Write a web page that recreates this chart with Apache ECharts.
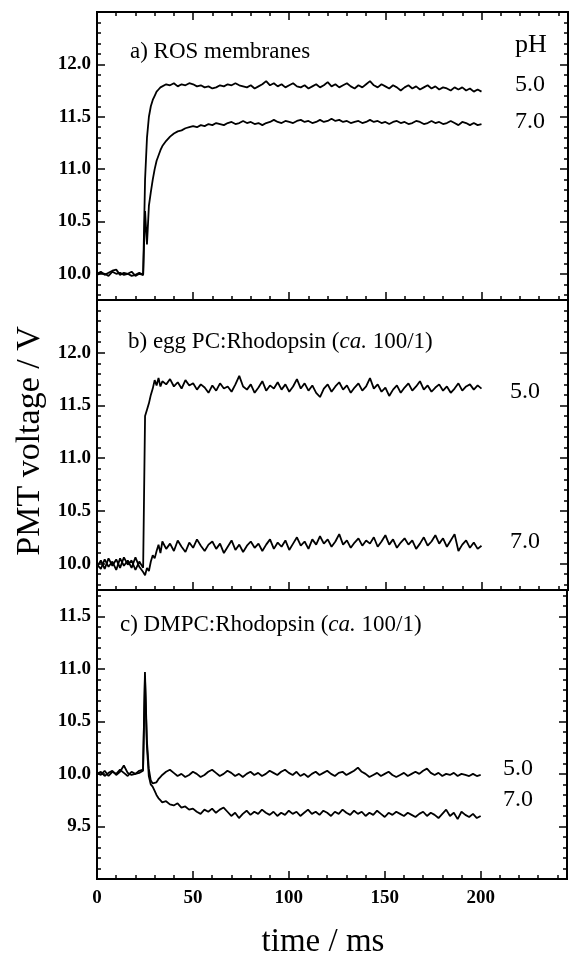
<!DOCTYPE html>
<html>
<head>
<meta charset="utf-8">
<script src="https://cdn.jsdelivr.net/npm/echarts@6/dist/echarts.min.js"></script>
<style>
html,body{margin:0;padding:0;background:#fff;}
#chart{width:570px;height:961px;}
</style>
</head>
<body>
<div id="chart"></div>
<script>
// ---- data ----
const time = [0,2,4,6,8,10,12,14,16,18,20,22,24,
  25,26,27,28,29,30,31,32,33,34,
  36,38,40,42,44,46,48,50,52,54,
  56,58,60,62,64,66,68,70,72,74,
  76,78,80,82,84,86,88,90,92,94,
  96,98,100,102,104,106,108,110,112,114,
  116,118,120,122,124,126,128,130,132,134,
  136,138,140,142,144,146,148,150,152,154,
  156,158,160,162,164,166,168,170,172,174,
  176,178,180,182,184,186,188,190,192,194,
  196,198,200];

// a) ROS membranes
const rosPH5 = [10.00,10.02,9.99,10.01,10.03,10.04,9.99,10.01,10.00,9.98,9.99,10.01,9.99,
  10.90,11.30,11.50,11.60,11.66,11.70,11.74,11.76,11.78,11.79,
  11.81,11.80,11.82,11.79,11.81,11.80,11.82,11.81,11.79,11.80,
  11.78,11.79,11.77,11.78,11.80,11.79,11.81,11.80,11.82,11.80,
  11.79,11.78,11.80,11.77,11.79,11.81,11.84,11.80,11.82,11.79,
  11.81,11.78,11.80,11.82,11.79,11.78,11.80,11.77,11.79,11.81,
  11.78,11.80,11.83,11.79,11.81,11.78,11.80,11.82,11.79,11.77,
  11.80,11.78,11.81,11.84,11.80,11.78,11.81,11.79,11.77,11.80,
  11.78,11.75,11.78,11.80,11.77,11.79,11.76,11.78,11.80,11.77,
  11.79,11.76,11.78,11.77,11.75,11.78,11.76,11.78,11.75,11.77,
  11.74,11.76,11.74];
const rosPH7 = [9.99,10.01,10.00,9.98,10.02,10.00,10.01,9.99,10.00,10.02,9.98,10.00,9.99,
  10.60,10.28,10.65,10.78,10.90,11.00,11.08,11.13,11.18,11.22,
  11.27,11.31,11.34,11.36,11.37,11.39,11.40,11.41,11.40,11.42,
  11.41,11.43,11.42,11.44,11.43,11.42,11.44,11.45,11.43,11.44,
  11.46,11.44,11.45,11.43,11.44,11.42,11.44,11.45,11.47,11.45,
  11.44,11.46,11.45,11.44,11.46,11.47,11.45,11.46,11.44,11.45,
  11.47,11.45,11.46,11.48,11.46,11.47,11.45,11.46,11.44,11.45,
  11.46,11.44,11.45,11.47,11.45,11.46,11.44,11.45,11.43,11.45,
  11.46,11.44,11.45,11.43,11.44,11.46,11.45,11.43,11.44,11.46,
  11.44,11.45,11.43,11.44,11.46,11.44,11.42,11.45,11.44,11.42,
  11.44,11.42,11.43];

// b) egg PC:Rhodopsin
const eggPH5 = [9.97,10.03,9.95,10.05,9.98,10.04,9.96,10.06,9.99,10.03,9.94,10.02,9.96,
  11.40,11.46,11.52,11.60,11.66,11.74,11.69,11.76,11.68,11.73,
  11.70,11.75,11.68,11.72,11.66,11.74,11.69,11.71,11.65,11.70,
  11.67,11.62,11.69,11.64,11.71,11.66,11.68,11.63,11.70,11.78,
  11.68,11.65,11.70,11.62,11.67,11.73,11.64,11.69,11.66,11.72,
  11.65,11.70,11.63,11.68,11.75,11.66,11.71,11.64,11.69,11.62,
  11.58,11.66,11.70,11.63,11.68,11.72,11.65,11.69,11.62,11.67,
  11.71,11.64,11.68,11.76,11.66,11.70,11.63,11.67,11.59,11.65,
  11.69,11.62,11.67,11.71,11.64,11.68,11.73,11.65,11.69,11.63,
  11.67,11.70,11.64,11.68,11.62,11.66,11.71,11.64,11.68,11.70,
  11.65,11.69,11.66];
const eggPH7 = [9.99,9.95,10.04,9.97,10.02,9.94,10.05,9.98,10.03,9.96,10.06,9.97,9.92,
  9.89,9.96,9.93,10.02,10.08,10.05,10.12,10.18,10.10,10.21,
  10.14,10.19,10.12,10.22,10.16,10.11,10.20,10.15,10.23,10.17,
  10.12,10.18,10.21,10.14,10.19,10.10,10.16,10.22,10.13,10.18,
  10.11,10.17,10.21,10.15,10.19,10.12,10.18,10.23,10.14,10.20,
  10.16,10.22,10.13,10.19,10.25,10.17,10.21,10.14,10.23,10.18,
  10.26,10.19,10.23,10.16,10.21,10.28,10.18,10.22,10.15,10.20,
  10.24,10.17,10.22,10.19,10.25,10.16,10.21,10.27,10.18,10.23,
  10.15,10.20,10.24,10.18,10.22,10.14,10.19,10.25,10.17,10.21,
  10.27,10.19,10.24,10.16,10.22,10.28,10.12,10.18,10.22,10.15,
  10.20,10.14,10.17];

// c) DMPC:Rhodopsin
const dmpcPH5 = [10.00,10.02,9.98,10.01,10.03,9.99,10.02,10.08,10.01,9.99,10.00,10.03,10.04,
  10.97,10.32,10.05,9.94,9.91,9.92,9.92,9.95,9.97,9.99,
  10.02,10.04,10.01,9.98,10.00,9.97,9.99,10.02,10.00,9.97,
  9.99,10.02,10.04,10.01,9.98,10.00,10.03,10.01,9.98,10.00,
  9.97,10.00,10.02,9.99,10.01,9.98,10.00,10.03,10.01,9.99,
  10.02,10.04,10.01,9.99,10.02,9.98,10.00,9.97,10.00,10.02,
  9.99,10.01,10.03,10.00,9.98,10.01,10.02,9.99,10.01,10.03,
  10.06,10.02,10.00,9.97,9.99,10.01,9.98,10.00,10.02,9.99,
  9.97,9.99,10.01,9.98,10.00,10.02,10.00,10.03,10.05,10.01,
  9.99,10.01,9.98,10.00,9.99,10.01,9.98,10.00,9.99,9.98,
  10.00,9.98,9.99];
const dmpcPH7 = [10.01,9.99,10.03,9.98,10.02,10.00,10.04,10.01,9.98,10.02,10.00,10.01,10.03,
  10.93,10.27,9.98,9.90,9.88,9.84,9.80,9.77,9.75,9.73,
  9.74,9.71,9.70,9.72,9.68,9.69,9.66,9.67,9.64,9.62,
  9.66,9.64,9.67,9.63,9.66,9.68,9.64,9.60,9.63,9.58,
  9.62,9.65,9.61,9.64,9.62,9.66,9.63,9.61,9.64,9.60,
  9.63,9.61,9.65,9.62,9.64,9.60,9.63,9.66,9.62,9.64,
  9.61,9.65,9.63,9.60,9.64,9.62,9.66,9.63,9.61,9.65,
  9.62,9.64,9.60,9.63,9.61,9.65,9.62,9.59,9.63,9.61,
  9.64,9.62,9.60,9.63,9.61,9.59,9.62,9.64,9.60,9.63,
  9.61,9.58,9.62,9.66,9.60,9.63,9.57,9.64,9.61,9.59,
  9.62,9.58,9.60];

// tick labels
const xTickLabels = ['0','50','100','150','200'];
const yTickLabelsA = ['10.0','10.5','11.0','11.5','12.0'];
const yTickLabelsB = ['10.0','10.5','11.0','11.5','12.0'];
const yTickLabelsC = ['9.5','10.0','10.5','11.0','11.5'];

const panelTitles = ['a) ROS membranes', 'b) egg PC:Rhodopsin ({i|ca.} 100/1)', 'c) DMPC:Rhodopsin ({i|ca.} 100/1)'];
const phHeader = 'pH';
const phLabels = ['5.0', '7.0'];

// ---- layout / style ----
const SERIF = '"Liberation Serif", "DejaVu Serif", serif';
const grids = [
  {left: 97, right: 2, top: 12, height: 288},
  {left: 97, right: 2, top: 300, height: 290},
  {left: 97, right: 2, top: 590, height: 289}
];
const yRanges = [[9.75, 12.5], [9.75, 12.5], [9.0, 11.75]];
const yLabelSets = [yTickLabelsA, yTickLabelsB, yTickLabelsC];
const black = '#000';

const xAxes = [];
const yAxes = [];
const seriesXIndex = [];

function xAxisDef(g, pos, major, labels) {
  return {
    type: 'value', gridIndex: g, position: pos, min: 0, max: 245,
    interval: major ? 50 : 10,
    axisLine: {show: true, onZero: false, lineStyle: {color: black, width: 2}},
    axisTick: {show: true, inside: true, length: major ? 8 : 4, lineStyle: {color: black, width: 1.5}},
    axisLabel: labels ? {
      show: true, margin: 10, color: black, fontFamily: SERIF, fontSize: 19, fontWeight: 'bold',
      formatter: v => { const s = String(Math.round(v)); return (Math.abs(v - Math.round(v)) < 1e-6 && xTickLabels.includes(s)) ? s : ''; }
    } : {show: false},
    splitLine: {show: false}
  };
}
function yAxisDef(g, pos, major, labels) {
  return {
    type: 'value', gridIndex: g, position: pos, min: yRanges[g][0], max: yRanges[g][1],
    splitNumber: major ? 5 : 27,
    axisLine: {show: true, onZero: false, lineStyle: {color: black, width: 2}},
    axisTick: {show: true, inside: true, length: major ? 8 : 4, lineStyle: {color: black, width: 1.5}},
    axisLabel: labels ? {
      show: true, margin: 6, color: black, fontFamily: SERIF, fontSize: 19, fontWeight: 'bold',
      formatter: v => { const s = v.toFixed(1); return yLabelSets[g].includes(s) ? s : ''; }
    } : {show: false},
    splitLine: {show: false}
  };
}

for (let g = 0; g < 3; g++) {
  xAxes.push(xAxisDef(g, 'bottom', false, false));
  xAxes.push(xAxisDef(g, 'bottom', true, g === 2));
  seriesXIndex.push(xAxes.length - 1);
  if (g === 0) {
    xAxes.push(xAxisDef(g, 'top', false, false));
    xAxes.push(xAxisDef(g, 'top', true, false));
  }
  yAxes.push(yAxisDef(g, 'left', false, false));
  yAxes.push(yAxisDef(g, 'left', true, true));
  yAxes.push(yAxisDef(g, 'right', false, false));
  yAxes.push(yAxisDef(g, 'right', true, false));
}
// axis titles
const lastX = xAxes[seriesXIndex[2]];
lastX.name = 'time / ms';
lastX.nameLocation = 'middle';
lastX.nameGap = 47;
lastX.nameTextStyle = {fontFamily: SERIF, fontSize: 33, color: black, padding: [0, 18, 0, 0]};
const midY = yAxes[4 + 1];
midY.name = 'PMT voltage / V';
midY.nameLocation = 'middle';
midY.nameGap = 50;
midY.nameTextStyle = {fontFamily: SERIF, fontSize: 34, color: black, padding: [0, 0, 0, 8]};

const panelData = [[rosPH5, rosPH7], [eggPH5, eggPH7], [dmpcPH5, dmpcPH7]];
const series = [];
panelData.forEach((pair, g) => {
  pair.forEach((vals, k) => {
    series.push({
      type: 'line', name: panelTitles[g] + ' pH ' + phLabels[k],
      xAxisIndex: seriesXIndex[g], yAxisIndex: 4 * g + 1,
      data: time.map((t, i) => [t, vals[i]]),
      showSymbol: false, symbol: 'none', silent: true,
      lineStyle: {color: black, width: 1.8}
    });
  });
});

function txt(x, y, text, size, extra) {
  return Object.assign({
    type: 'text', x: x, y: y, silent: true,
    style: Object.assign({
      text: text, fill: black, font: size + 'px ' + SERIF, verticalAlign: 'middle', align: 'left',
      rich: {i: {fontStyle: 'italic', fontSize: size, fontFamily: SERIF, fill: black}}
    }, extra || {})
  });
}

const graphics = [
  txt(130, 52, panelTitles[0], 23),
  txt(515, 45, phHeader, 26),
  txt(515, 85, phLabels[0], 24),
  txt(515, 122, phLabels[1], 24),
  txt(128, 342, panelTitles[1], 23),
  txt(510, 392, phLabels[0], 24),
  txt(510, 542, phLabels[1], 24),
  txt(120, 625, panelTitles[2], 23),
  txt(503, 769, phLabels[0], 24),
  txt(503, 800, phLabels[1], 24)
];

const chart = echarts.init(document.getElementById('chart'), null, {renderer: 'canvas'});
chart.setOption({
  backgroundColor: '#fff',
  animation: false,
  grid: grids,
  xAxis: xAxes,
  yAxis: yAxes,
  series: series,
  graphic: graphics
});
</script>
</body>
</html>
